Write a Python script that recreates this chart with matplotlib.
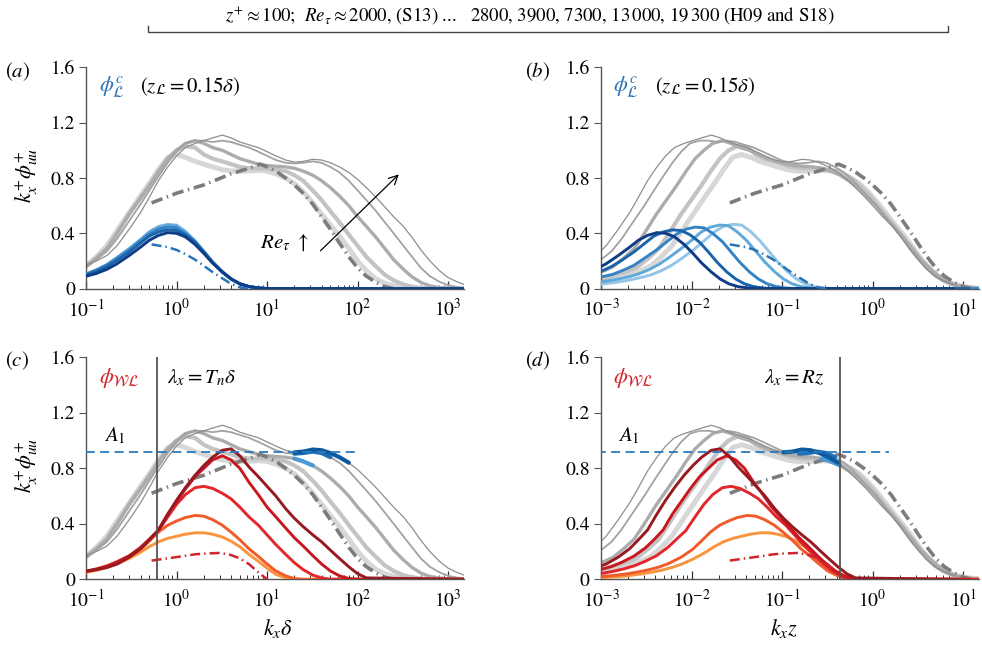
import numpy as np
import matplotlib
matplotlib.use('Agg')
import matplotlib.pyplot as plt
from matplotlib.lines import Line2D
from matplotlib.ticker import LogLocator, NullFormatter

plt.rcParams['font.family'] = ['STIXGeneral', 'DejaVu Serif']
plt.rcParams['mathtext.fontset'] = 'stix'

# ---------------- data ----------------
re_tau = [2800, 3900, 7300, 13000, 19300]   # H09 and S18
re_s13 = 2000                                 # S13 (dash-dot)
z_plus = 100

kxd = [0.02, 0.03, 0.04, 0.05, 0.063, 0.08, 0.1, 0.13, 0.17, 0.22, 0.3, 0.4, 0.5, 0.63, 0.8,
       1.0, 1.25, 1.6, 2.0, 2.5, 3.2, 4.0, 5.0, 6.3, 8.0,
       10, 12.5, 16, 20, 25, 32, 40, 50, 63, 80,
       100, 125, 160, 200, 250, 320, 400, 500, 630, 800,
       1000, 1250, 1500]

gray_2800 = [0.03, 0.05, 0.07, 0.09, 0.11, 0.135, 0.165, 0.23, 0.31, 0.42, 0.55, 0.67, 0.76, 0.86, 0.95,
             0.97, 0.95, 0.92, 0.90, 0.88, 0.86, 0.85, 0.85, 0.85, 0.855,
             0.85, 0.83, 0.80, 0.76, 0.70, 0.62, 0.54, 0.46, 0.38, 0.29,
             0.20, 0.13, 0.07, 0.04, 0.02, 0.01, 0.005, 0, 0, 0,
             0, 0, 0]
gray_3900 = [0.03, 0.05, 0.07, 0.09, 0.11, 0.13, 0.16, 0.22, 0.29, 0.40, 0.54, 0.655, 0.745, 0.845, 0.94,
             1.0, 1.03, 1.02, 0.97, 0.94, 0.92, 0.90, 0.88, 0.87, 0.87,
             0.87, 0.86, 0.85, 0.82, 0.78, 0.71, 0.64, 0.56, 0.48, 0.39,
             0.31, 0.23, 0.16, 0.10, 0.06, 0.03, 0.015, 0.005, 0, 0,
             0, 0, 0]
gray_7300 = [0.03, 0.05, 0.07, 0.09, 0.11, 0.13, 0.16, 0.22, 0.29, 0.40, 0.54, 0.655, 0.745, 0.845, 0.94,
             1.0, 1.05, 1.07, 1.05, 1.02, 1.0, 0.97, 0.94, 0.92, 0.90,
             0.89, 0.885, 0.88, 0.87, 0.85, 0.82, 0.78, 0.73, 0.67, 0.60,
             0.52, 0.45, 0.37, 0.29, 0.21, 0.14, 0.085, 0.045, 0.02, 0.008,
             0.003, 0, 0]
gray_13000 = [0.04, 0.06, 0.08, 0.10, 0.12, 0.14, 0.16, 0.21, 0.27, 0.36, 0.49, 0.61, 0.71, 0.81, 0.91,
              0.99, 1.05, 1.07, 1.07, 1.06, 1.07, 1.06, 1.04, 1.02, 0.99,
              0.96, 0.93, 0.91, 0.905, 0.91, 0.92, 0.91, 0.88, 0.84, 0.78,
              0.71, 0.64, 0.56, 0.48, 0.40, 0.31, 0.23, 0.15, 0.09, 0.05,
              0.025, 0.012, 0.006]
gray_19300 = [0.05, 0.07, 0.09, 0.11, 0.13, 0.15, 0.17, 0.20, 0.24, 0.31, 0.43, 0.55, 0.66, 0.78, 0.88,
              0.96, 1.02, 1.05, 1.07, 1.09, 1.11, 1.09, 1.06, 1.04, 1.02,
              0.99, 0.96, 0.93, 0.915, 0.92, 0.935, 0.93, 0.91, 0.88, 0.84,
              0.79, 0.73, 0.66, 0.59, 0.52, 0.45, 0.37, 0.28, 0.20, 0.13,
              0.08, 0.05, 0.03]
gray_s13_x = [0.53, 1.0, 2.0, 4.0, 6.3, 8.4, 10, 12.5, 16, 20, 25, 32, 40, 50, 63, 80, 100, 125, 160, 200, 250]
gray_s13_y = [0.62, 0.69, 0.75, 0.83, 0.87, 0.90, 0.88, 0.85, 0.80, 0.75, 0.69, 0.61, 0.52, 0.43, 0.33, 0.23,
              0.15, 0.09, 0.045, 0.015, 0.0]

blue_kxd = [0.02, 0.03, 0.04, 0.05, 0.063, 0.08, 0.1, 0.13, 0.17, 0.22, 0.3, 0.4, 0.5, 0.63, 0.8,
            1.0, 1.25, 1.6, 2.0, 2.5, 3.2, 4.0, 5.0, 6.3, 8.0, 10, 1500]
blue_2800 = [0.025, 0.035, 0.045, 0.055, 0.068, 0.083, 0.10, 0.13, 0.17, 0.22, 0.285, 0.355, 0.41, 0.45, 0.465,
             0.46, 0.415, 0.345, 0.27, 0.195, 0.125, 0.072, 0.036, 0.015, 0.005, 0.001, 0]
blue_3900 = [0.03, 0.04, 0.05, 0.06, 0.072, 0.087, 0.105, 0.135, 0.175, 0.225, 0.29, 0.355, 0.41, 0.445, 0.46,
             0.455, 0.41, 0.345, 0.27, 0.195, 0.125, 0.072, 0.036, 0.015, 0.005, 0.001, 0]
blue_7300 = [0.035, 0.045, 0.055, 0.065, 0.077, 0.09, 0.105, 0.135, 0.17, 0.22, 0.28, 0.345, 0.395, 0.43, 0.445,
             0.44, 0.40, 0.34, 0.265, 0.19, 0.12, 0.07, 0.035, 0.015, 0.005, 0.001, 0]
blue_13000 = [0.04, 0.05, 0.06, 0.07, 0.08, 0.09, 0.10, 0.125, 0.16, 0.205, 0.265, 0.33, 0.38, 0.41, 0.425,
              0.42, 0.39, 0.335, 0.265, 0.19, 0.12, 0.07, 0.035, 0.015, 0.005, 0.001, 0]
blue_19300 = [0.045, 0.053, 0.06, 0.067, 0.074, 0.082, 0.09, 0.11, 0.14, 0.18, 0.24, 0.30, 0.35, 0.385, 0.405,
              0.40, 0.375, 0.32, 0.255, 0.185, 0.12, 0.07, 0.035, 0.015, 0.005, 0.001, 0]
blue_s13_x = [0.53, 0.8, 1.0, 1.25, 1.6, 2.0, 2.5, 3.2, 4.0, 5.0, 6.3]
blue_s13_y = [0.32, 0.30, 0.28, 0.25, 0.21, 0.165, 0.12, 0.075, 0.035, 0.01, 0.0]

red_kxd = [0.02, 0.03, 0.04, 0.05, 0.063, 0.08, 0.1, 0.13, 0.17, 0.22, 0.3, 0.4, 0.5, 0.63, 0.8,
           1.0, 1.25, 1.6, 2.0, 2.5, 3.2, 4.0, 5.0, 6.3, 8.0,
           10, 12.5, 16, 20, 25, 32, 40, 50, 63, 80, 100, 125, 1500]
red_2800 = [0.008, 0.012, 0.017, 0.022, 0.03, 0.04, 0.05, 0.065, 0.085, 0.11, 0.15, 0.195, 0.235, 0.27, 0.295,
            0.31, 0.325, 0.335, 0.335, 0.325, 0.305, 0.275, 0.235, 0.18, 0.13,
            0.08, 0.035, 0.01, 0, 0, 0, 0, 0, 0, 0, 0, 0, 0]
red_3900 = [0.01, 0.015, 0.02, 0.026, 0.033, 0.042, 0.053, 0.068, 0.088, 0.115, 0.16, 0.215, 0.275, 0.34, 0.39,
            0.42, 0.445, 0.46, 0.455, 0.43, 0.39, 0.34, 0.285, 0.22, 0.165,
            0.11, 0.06, 0.025, 0.005, 0, 0, 0, 0, 0, 0, 0, 0, 0]
red_7300 = [0.012, 0.018, 0.024, 0.03, 0.037, 0.046, 0.058, 0.075, 0.097, 0.127, 0.17, 0.23, 0.29, 0.35, 0.45,
            0.54, 0.61, 0.66, 0.67, 0.655, 0.62, 0.58, 0.52, 0.45, 0.39,
            0.32, 0.25, 0.18, 0.12, 0.07, 0.03, 0.01, 0, 0, 0, 0, 0, 0]
red_13000 = [0.02, 0.025, 0.03, 0.035, 0.041, 0.048, 0.058, 0.072, 0.092, 0.122, 0.167, 0.225, 0.285, 0.355, 0.47,
             0.56, 0.65, 0.74, 0.80, 0.86, 0.89, 0.86, 0.80, 0.70, 0.61,
             0.52, 0.45, 0.37, 0.30, 0.24, 0.17, 0.11, 0.06, 0.025, 0.005, 0, 0, 0]
red_19300 = [0.025, 0.03, 0.035, 0.04, 0.045, 0.052, 0.06, 0.07, 0.085, 0.11, 0.16, 0.22, 0.285, 0.355, 0.47,
             0.57, 0.66, 0.75, 0.82, 0.88, 0.93, 0.94, 0.89, 0.81, 0.74,
             0.67, 0.60, 0.51, 0.44, 0.38, 0.32, 0.27, 0.21, 0.15, 0.09, 0.04, 0.01, 0]
red_s13_x = [0.53, 1.0, 1.6, 2.0, 3.0, 4.0, 5.0, 6.3, 8.0, 10]
red_s13_y = [0.135, 0.16, 0.18, 0.185, 0.19, 0.175, 0.15, 0.11, 0.05, 0.0]

a1_level = 0.92          # A1
tn_kxd = 0.61            # lambda_x = T_n delta
rz_kxz = 0.44            # lambda_x = R z
a1_end_c = 100
a1_end_d = 1.5
seg_lo_kxd = 20          # blue highlighted portion starts

gray_curves = [gray_2800, gray_3900, gray_7300, gray_13000, gray_19300]
blue_curves = [blue_2800, blue_3900, blue_7300, blue_13000, blue_19300]
red_curves = [red_2800, red_3900, red_7300, red_13000, red_19300]

# ---------------- styles ----------------
gray_cols = ['#d7d7d7', '#c3c3c3', '#acacac', '#a2a2a2', '#8e8e8e']
gray_lws = [3.6, 3.0, 2.4, 1.3, 0.9]
blue_cols = ['#93c5e6', '#5fa8da', '#3483c4', '#1a63ab', '#0e3c86']
red_cols = ['#f7943c', '#f15a29', '#e3262a', '#c8171f', '#971a22']
seg_cols = [None, None, '#4a9ad6', '#1f70b6', '#0d5a9e']

fig = plt.figure(figsize=(9.82, 6.49), dpi=100)
pos = {'a': [0.0876, 0.5552, 0.385, 0.3411], 'b': [0.612, 0.5552, 0.385, 0.3411],
       'c': [0.0876, 0.1074, 0.385, 0.3421], 'd': [0.612, 0.1074, 0.385, 0.3421]}
axes = {k: fig.add_axes(v) for k, v in pos.items()}


def style(ax, xlim):
    ax.set_xscale('log')
    ax.set_xlim(*xlim)
    ax.set_ylim(0, 1.6)
    for s in ['top', 'right']:
        ax.spines[s].set_visible(False)
    for s in ['left', 'bottom']:
        ax.spines[s].set_color('#555555')
        ax.spines[s].set_linewidth(1.0)
    ax.set_yticks([0, 0.4, 0.8, 1.2, 1.6])
    ax.set_yticklabels(['0', '0.4', '0.8', '1.2', '1.6'])
    ax.tick_params(axis='y', direction='out', length=5, width=0.8, color='#555555', labelsize=14, pad=3)
    ax.xaxis.set_major_locator(LogLocator(base=10, numticks=20))
    ax.xaxis.set_minor_locator(LogLocator(base=10, subs=np.arange(2, 10), numticks=20))
    ax.xaxis.set_minor_formatter(NullFormatter())
    ax.tick_params(axis='x', which='major', direction='in', length=6, width=0.9, color='#333333',
                   labelsize=14, pad=7)
    ax.tick_params(axis='x', which='minor', direction='in', length=3, width=0.7, color='#333333')


def xconv(x, re, inner):
    x = np.asarray(x, dtype=float)
    return x * z_plus / re if inner else x


def draw_gray(ax, inner):
    for g, c, lw, re in zip(gray_curves, gray_cols, gray_lws, re_tau):
        ax.plot(xconv(kxd, re, inner), g, color=c, lw=lw, solid_capstyle='round', zorder=2)
    ax.plot(xconv(gray_s13_x, re_s13, inner), gray_s13_y, color='#7c7c7c', lw=2.6,
            dashes=(3.2, 1.3, 0.4, 1.3), zorder=3)


for key, inner in [('a', False), ('b', True)]:
    ax = axes[key]
    draw_gray(ax, inner)
    for b, c, re in zip(blue_curves, blue_cols, re_tau):
        ax.plot(xconv(blue_kxd, re, inner), b, color=c, lw=2.1, zorder=4)
    ax.plot(xconv(blue_s13_x, re_s13, inner), blue_s13_y, color='#2a72b5', lw=1.8,
            dashes=(4, 1.6, 0.6, 1.6), zorder=5)

for key, inner in [('c', False), ('d', True)]:
    ax = axes[key]
    draw_gray(ax, inner)
    for g, c, re in zip(gray_curves, seg_cols, re_tau):
        if c is None:
            continue
        x = np.asarray(kxd, dtype=float)
        m = (x >= seg_lo_kxd) & (x * z_plus / re <= rz_kxz * 1.05)
        ax.plot(xconv(x[m], re, inner), np.asarray(g)[m], color=c, lw=3.0, zorder=4,
                solid_capstyle='round')
    for r, c, re in zip(red_curves, red_cols, re_tau):
        ax.plot(xconv(red_kxd, re, inner), r, color=c, lw=2.1, zorder=5)
    ax.plot(xconv(red_s13_x, re_s13, inner), red_s13_y, color='#d3242c', lw=1.8,
            dashes=(4, 1.6, 0.6, 1.6), zorder=5)

# reference lines
axes['c'].plot([1e-3, a1_end_c], [a1_level, a1_level], color='#2a7bbf', lw=1.3, dashes=(5, 3), zorder=6)
axes['d'].plot([1e-4, a1_end_d], [a1_level, a1_level], color='#2a7bbf', lw=1.3, dashes=(5, 3), zorder=6)
axes['c'].axvline(tn_kxd, color='#555555', lw=1.3, zorder=6)
axes['d'].axvline(rz_kxz, color='#555555', lw=1.3, zorder=6)

style(axes['a'], (0.1, 1500))
style(axes['c'], (0.1, 1500))
style(axes['b'], (1e-3, 15))
style(axes['d'], (1e-3, 15))

# annotations
for key, xf in [('a', 0.035), ('b', 0.032)]:
    ax = axes[key]
    ax.text(xf, 0.912, r'$\phi^{c}_{\mathcal{L}}$', transform=ax.transAxes, color='#2a72b5',
            fontsize=16, ha='left', va='center')
    ax.text(0.143, 0.912, r'$(z_{\mathcal{L}} = 0.15\delta)$', transform=ax.transAxes, color='black',
            fontsize=15, ha='left', va='center')

axes['c'].text(0.035, 0.905, r'$\phi_{\mathcal{WL}}$', transform=axes['c'].transAxes, color='#d3242c',
               fontsize=16, ha='left', va='center')
axes['c'].text(0.213, 0.905, r'$\lambda_x = T_n\delta$', transform=axes['c'].transAxes,
               fontsize=15, ha='left', va='center')
axes['d'].text(0.032, 0.905, r'$\phi_{\mathcal{WL}}$', transform=axes['d'].transAxes, color='#d3242c',
               fontsize=16, ha='left', va='center')
axes['d'].text(0.432, 0.905, r'$\lambda_x = Rz$', transform=axes['d'].transAxes,
               fontsize=15, ha='left', va='center')
for key, xf in [('c', 0.048), ('d', 0.045)]:
    axes[key].text(xf, 0.645, r'$A_1$', transform=axes[key].transAxes, fontsize=15,
                   ha='left', va='center')

# Re arrow
axes['a'].annotate('', xy=(300, 0.84), xytext=(37, 0.26),
                   arrowprops=dict(arrowstyle='->', color='black', lw=0.9, mutation_scale=16))
axes['a'].text(29, 0.33, r'$Re_{\tau}\ \uparrow$', fontsize=15, ha='right', va='center')

# figure-level text
fig.text(0.005, 0.889, r'($a$)', fontsize=15, ha='left', va='center')
fig.text(0.535, 0.889, r'($b$)', fontsize=15, ha='left', va='center')
fig.text(0.005, 0.444, r'($c$)', fontsize=15, ha='left', va='center')
fig.text(0.535, 0.444, r'($d$)', fontsize=15, ha='left', va='center')

fig.text(0.027, 0.730, r'$k_x^{+}\phi_{uu}^{+}$', fontsize=16, rotation=90, ha='center', va='center')
fig.text(0.027, 0.283, r'$k_x^{+}\phi_{uu}^{+}$', fontsize=16, rotation=90, ha='center', va='center')
fig.text(0.283, 0.032, r'$k_x\delta$', fontsize=16, ha='center', va='center')
fig.text(0.799, 0.032, r'$k_x z$', fontsize=16, ha='center', va='center')

fig.text(0.54, 0.975, r'$z^{+}\approx 100$;  $Re_{\tau}\approx 2000$, (S13) ...   2800, 3900, 7300, '
         r'13$\,$000, 19$\,$300 (H09 and S18)', fontsize=13.5, ha='center', va='center')
x0, x1, yb, yt = 148 / 982, 948 / 982, 1 - 32 / 649, 1 - 26 / 649
fig.add_artist(Line2D([x0, x0, x1, x1], [yt, yb, yb, yt], color='#444444', lw=1.0))

fig.savefig('out.png', dpi=100)
